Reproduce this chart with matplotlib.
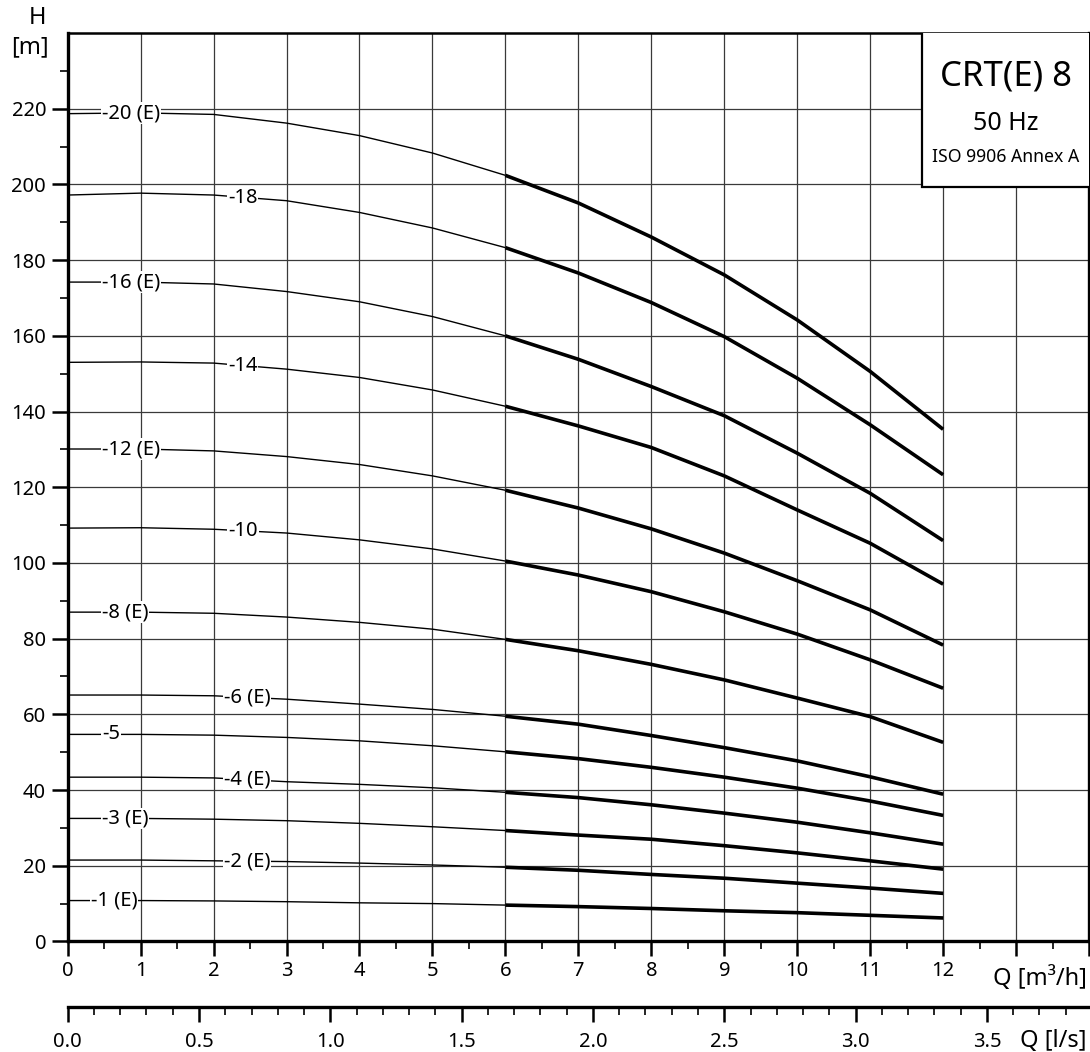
import numpy as np
import matplotlib
matplotlib.use("Agg")
import matplotlib.pyplot as plt
from matplotlib.patches import Rectangle

plt.rcParams["font.family"] = ["Noto Sans", "DejaVu Sans"]

# flow rate points [m3/h]
q = [0, 1, 2, 3, 4, 5, 6, 7, 8, 9, 10, 11, 12]

# head [m] per pump variant
curve_names = ["-20 (E)", "-18", "-16 (E)", "-14", "-12 (E)", "-10", "-8 (E)",
               "-6 (E)", "-5", "-4 (E)", "-3 (E)", "-2 (E)", "-1 (E)"]
h_20 = [218.7, 218.9, 218.5, 216.2, 212.9, 208.3, 202.4, 195.1, 186.1, 176.1, 164.2, 150.6, 135.3]
h_18 = [197.2, 197.7, 197.2, 195.7, 192.6, 188.5, 183.3, 176.6, 168.8, 159.8, 148.8, 136.5, 123.3]
h_16 = [174.2, 174.2, 173.7, 171.7, 169.0, 165.1, 160.0, 153.8, 146.6, 138.9, 129.0, 118.4, 105.9]
h_14 = [153.0, 153.1, 152.8, 151.2, 149.0, 145.7, 141.4, 136.2, 130.5, 123.0, 114.0, 105.2, 94.4]
h_12 = [130.1, 130.1, 129.6, 128.1, 126.0, 123.0, 119.2, 114.5, 109.0, 102.6, 95.3, 87.6, 78.3]
h_10 = [109.2, 109.3, 108.9, 107.9, 106.1, 103.7, 100.5, 96.8, 92.4, 87.1, 81.2, 74.4, 66.9]
h_8 = [87.0, 87.0, 86.7, 85.7, 84.3, 82.5, 79.8, 76.8, 73.2, 69.1, 64.3, 59.4, 52.6]
h_6 = [65.1, 65.1, 64.9, 64.0, 62.7, 61.3, 59.5, 57.4, 54.4, 51.2, 47.7, 43.5, 38.9]
h_5 = [54.7, 54.7, 54.5, 53.9, 53.0, 51.7, 50.1, 48.3, 46.0, 43.4, 40.5, 37.1, 33.3]
h_4 = [43.4, 43.4, 43.2, 42.2, 41.5, 40.6, 39.4, 38.0, 36.1, 33.9, 31.5, 28.7, 25.7]
h_3 = [32.5, 32.5, 32.3, 31.9, 31.2, 30.3, 29.3, 28.1, 27.0, 25.3, 23.4, 21.3, 19.1]
h_2 = [21.5, 21.5, 21.3, 21.1, 20.7, 20.2, 19.6, 18.8, 17.7, 16.7, 15.4, 14.1, 12.7]
h_1 = [10.8, 10.8, 10.7, 10.5, 10.2, 10.0, 9.6, 9.2, 8.7, 8.1, 7.6, 6.9, 6.2]
heads = [h_20, h_18, h_16, h_14, h_12, h_10, h_8, h_6, h_5, h_4, h_3, h_2, h_1]

# where each label starts along the curve (left column / middle column)
label_x = [0.47, 2.2, 0.47, 2.2, 0.47, 2.2, 0.47, 2.14, 0.47, 2.14, 0.47, 2.14, 0.32]

fig = plt.figure(figsize=(10.9, 10.52), dpi=100)
ax = fig.add_axes([0.0621, 0.1051, 0.937, 0.8635])

for name, h, lx in zip(curve_names, heads, label_x):
    ax.plot(q[:7], h[:7], color="black", lw=1.0, zorder=3, solid_capstyle="butt")
    ax.plot(q[6:], h[6:], color="black", lw=2.6, zorder=3, solid_capstyle="butt")
    ly = np.interp(lx + 0.3, q, h)
    ax.text(lx, ly, name, ha="left", va="center", fontsize=14.5, zorder=4,
            bbox=dict(facecolor="white", edgecolor="none", pad=0.6))

ax.set_xlim(0, 14)
ax.set_ylim(0, 240)

ax.set_xticks(np.arange(0, 15, 1))
ax.set_xticklabels([str(i) for i in range(13)] + ["", ""])
ax.set_xticks(np.arange(0.5, 14, 1), minor=True)
ax.set_yticks(np.arange(0, 240, 20))
ax.set_yticks(np.arange(10, 240, 20), minor=True)

ax.tick_params(axis="x", which="major", length=11, width=1.8, pad=3, labelsize=14.5)
ax.tick_params(axis="x", which="minor", length=6, width=1.2)
ax.tick_params(axis="y", which="major", length=11.5, width=1.8, pad=4, labelsize=14.5)
ax.tick_params(axis="y", which="minor", length=6, width=1.2)

ax.set_axisbelow(True)
ax.grid(which="major", color="#3a3a3a", lw=0.9)
for s in ax.spines.values():
    s.set_linewidth(2.4)
ax.spines["top"].set_linewidth(1.8)

# l/s scale below
sec = ax.secondary_xaxis(-0.0722, functions=(lambda x: x / 3.6, lambda x: x * 3.6))
sec.set_xticks(np.arange(0, 3.51, 0.5))
sec.set_xticklabels([f"{v:.1f}" for v in np.arange(0, 3.51, 0.5)])
sec.set_xticks(np.arange(0, 3.85, 0.1), minor=True)
sec.spines["bottom"].set_linewidth(2.4)
sec.tick_params(which="major", length=11, width=1.8, pad=7, labelsize=14.5)
sec.tick_params(which="minor", length=6, width=1.2)

# title box
ax.add_patch(Rectangle((0.8364, 0.83), 0.2, 0.2, transform=ax.transAxes,
                       facecolor="white", edgecolor="black", lw=1.6, zorder=5, clip_on=True))
ax.text(12.86, 228.5, "CRT(E) 8", ha="center", va="center", fontsize=25, zorder=6)
ax.text(12.86, 216.0, "50 Hz", ha="center", va="center", fontsize=18, zorder=6)
ax.text(12.86, 207.3, "ISO 9906 Annex A", ha="center", va="center", fontsize=12.7, zorder=6)

fig.text(0.034, 0.983, "H", ha="center", va="center", fontsize=17)
fig.text(0.0275, 0.955, "[m]", ha="center", va="center", fontsize=17)
fig.text(0.997, 0.0703, "Q [m³/h]", ha="right", va="center", fontsize=17)
fig.text(0.997, 0.0105, "Q [l/s]", ha="right", va="center", fontsize=17)

fig.savefig("out.png", dpi=100)
